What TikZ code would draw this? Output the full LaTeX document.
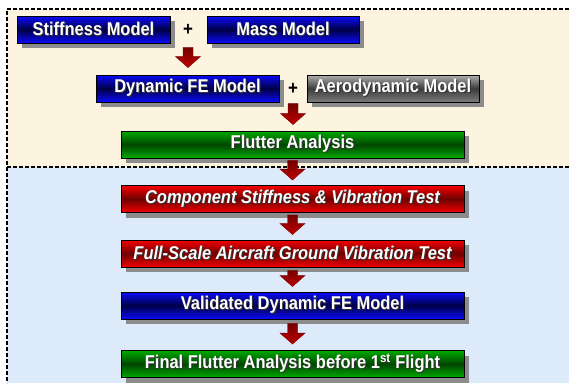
\documentclass[tikz,border=0pt]{standalone}
\usepackage{fontspec}
\setmainfont[FakeStretch=0.89]{Liberation Sans}
\usetikzlibrary{calc,shadows}
\definecolor{beigebg}{RGB}{253,244,224}
\definecolor{bluebg}{RGB}{221,234,250}
\definecolor{bbright}{RGB}{10,10,250}
\definecolor{bdark}{RGB}{0,0,70}
\definecolor{gbright}{RGB}{0,170,0}
\definecolor{gdark}{RGB}{0,70,0}
\definecolor{rbright}{RGB}{245,0,0}
\definecolor{rdark}{RGB}{110,0,0}
\definecolor{ybright}{RGB}{175,175,175}
\definecolor{ydark}{RGB}{60,60,60}
\definecolor{arrred}{RGB}{230,0,0}
\newcommand\tsh[1]{\rlap{\kern1pt\raisebox{-1pt}{\color{black!80}#1}}#1}
\tikzset{
  flowbox/.style={draw=black, line width=0.9pt, inner sep=0pt, minimum height=27pt,
    text=white, font=\fontsize{18.5}{19}\selectfont\bfseries,
    drop shadow={shadow xshift=5pt, shadow yshift=-5pt, fill=black!45, opacity=1}},
  bluebox/.style={flowbox, top color=bbright, bottom color=bbright, middle color=bdark},
  greenbox/.style={flowbox, top color=gbright, bottom color=gbright, middle color=gdark},
  redbox/.style={flowbox, top color=rbright, bottom color=rbright, middle color=rdark,
    font=\fontsize{18.5}{19}\selectfont\bfseries\itshape},
  graybox/.style={flowbox, top color=ybright, bottom color=ybright!70!black, middle color=ydark},
  plussign/.style={font=\fontsize{19}{19}\selectfont\bfseries, inner sep=0pt},
  blockarrow/.style={draw=black!50!red, line width=0.4pt,
    top color=red!45!black, middle color=arrred, bottom color=red!75!black,
    to path={let \p1=(\tikztostart), \p2=(\tikztotarget) in
      (\x1-5pt,\y1) -- (\x1+5pt,\y1) -- (\x1+5pt,\y2+11pt) -- (\x1+12.5pt,\y2+11pt)
      -- (\x1,\y2) -- (\x1-12.5pt,\y2+11pt) -- (\x1-5pt,\y2+11pt) -- cycle}},
  sepline/.style={black, line width=1.3pt, dash pattern=on 4pt off 2pt}
}
\begin{document}
\begin{tikzpicture}[x=1pt,y=-1pt]
\useasboundingbox (0,0) rectangle (569,383);
\fill[white] (0,0) rectangle (569,383);
\fill[beigebg] (7,9) rectangle (569,167);
\fill[bluebg] (7,167) rectangle (569,383);
\draw[sepline] (569,9) -- (7,9) -- (7,383);
\draw[sepline] (7,167) -- (569,167);

\node[bluebox, minimum width=153pt] (stiff) at (93.5,29.5) {\tsh{Stiffness Model}};
\node[plussign] (plus1) at (188,30) {+};
\node[bluebox, minimum width=152pt] (mass) at (283,29.5) {\tsh{Mass Model}};
\node[bluebox, minimum width=183pt] (dyn) at (187.5,88.5) {\tsh{Dynamic FE Model}};
\node[plussign] (plus2) at (293,89) {+};
\node[graybox, minimum width=172pt] (aero) at (393,88.5) {\tsh{Aerodynamic Model}};
\node[greenbox, minimum width=343pt] (flutter) at (292.5,144.5) {\tsh{Flutter Analysis}};
\node[redbox, minimum width=343pt] (comp) at (292.5,199) {\tsh{Component Stiffness \& Vibration Test}};
\node[redbox, minimum width=343pt] (full) at (292.5,253.5) {\tsh{Full-Scale Aircraft Ground Vibration Test}};
\node[bluebox, minimum width=343pt] (valid) at (292.5,305.5) {\tsh{Validated Dynamic FE Model}};
\node[greenbox, minimum width=343pt] (final) at (292.5,364) {\tsh{Final Flutter Analysis before 1\textsuperscript{st} Flight}};

\path[blockarrow] ([yshift=-4pt]stiff.south -| plus1) to ([yshift=7pt]dyn.north -| plus1);
\path[blockarrow] ([yshift=-1pt]dyn.south -| plus2) to ([yshift=6pt]flutter.north -| plus2);
\path[blockarrow] ([yshift=-2pt]flutter.south) to ([yshift=5pt]comp.north);
\path[blockarrow] ([yshift=-2pt]comp.south) to ([yshift=5pt]full.north);
\path[blockarrow] ([yshift=-3pt]full.south) to ([yshift=5pt]valid.north);
\path[blockarrow] ([yshift=-4pt]valid.south) to ([yshift=6pt]final.north);
\end{tikzpicture}
\end{document}
